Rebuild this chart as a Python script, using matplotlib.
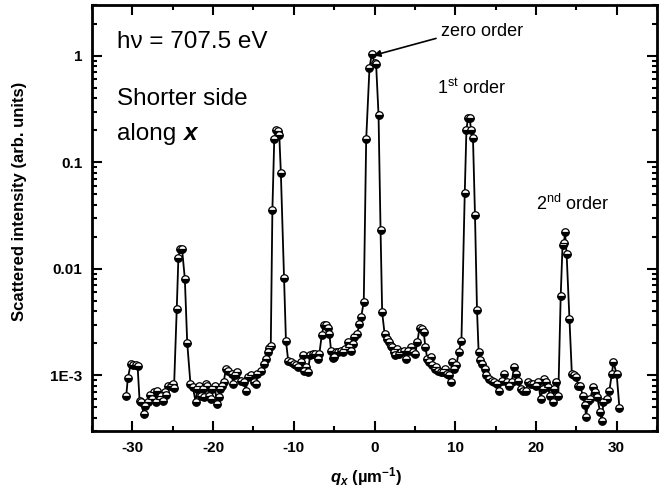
import matplotlib
matplotlib.use("Agg")
import matplotlib.pyplot as plt
from matplotlib.ticker import FixedLocator, FixedFormatter, LogLocator, NullFormatter, MultipleLocator

plt.rcParams['font.family'] = ['Liberation Sans', 'DejaVu Sans']
plt.rcParams['mathtext.fontset'] = 'custom'
plt.rcParams['mathtext.rm'] = 'Liberation Sans'
plt.rcParams['mathtext.it'] = 'Liberation Sans:italic'
plt.rcParams['mathtext.bf'] = 'Liberation Sans:bold'
try:
    plt.rcParams['mathtext.bfit'] = 'Liberation Sans:bold:italic'
except KeyError:
    pass

# ---- data ----
qx = [-30.76, -30.56, -30.2, -29.9, -29.6, -29.35, -29.1, -28.9, -28.6, -28.4,
      -28.1, -27.8, -27.6, -27.3, -27.1, -26.9, -26.6, -26.4, -26.2, -26.0,
      -25.8, -25.55, -25.26, -25.0, -24.84, -24.5, -24.3, -24.1, -23.85, -23.5,
      -23.2, -22.8, -22.5, -22.15, -21.95, -21.7, -21.5, -21.3, -21.1, -20.85,
      -20.7, -20.5, -20.3, -20.1, -19.8, -19.5, -19.3, -19.1, -18.9, -18.7,
      -18.4, -18.1, -17.7, -17.5, -17.3, -16.98, -16.56, -16.15, -15.94, -15.73,
      -15.32, -14.91, -14.7, -14.5, -14.08, -13.75, -13.46, -13.25, -13.05, -12.85,
      -12.65, -12.42, -12.21, -12.0, -11.8, -11.6, -11.2, -10.97, -10.68, -10.35,
      -10.02, -9.73, -9.44, -9.11, -8.9, -8.7, -8.49, -8.28, -7.95, -7.66,
      -7.37, -7.04, -6.83, -6.54, -6.29, -6.0, -5.8, -5.59, -5.38, -5.18,
      -4.97, -4.76, -4.47, -4.14, -3.94, -3.65, -3.31, -3.1, -2.9, -2.69,
      -2.48, -2.15, -1.86, -1.66, -1.33, -1.03, -0.62, -0.33, 0.0, 0.2,
      0.5, 0.75, 0.95, 1.25, 1.53, 1.74, 1.99, 2.2, 2.4, 2.6,
      2.82, 3.0, 3.31, 3.64, 3.85, 4.14, 4.47, 4.76, 5.05, 5.3,
      5.59, 5.88, 6.1, 6.3, 6.54, 6.71, 6.96, 7.12, 7.45, 7.66,
      7.87, 8.2, 8.49, 8.78, 9.03, 9.25, 9.44, 9.6, 9.85, 10.15,
      10.43, 10.77, 11.18, 11.39, 11.59, 11.8, 11.95, 12.2, 12.45, 12.7,
      12.9, 13.1, 13.37, 13.66, 13.87, 14.2, 14.5, 14.78, 15.12, 15.44,
      15.74, 16.06, 16.36, 16.68, 16.98, 17.3, 17.5, 17.8, 18.1, 18.42,
      18.76, 19.05, 19.34, 19.67, 20.0, 20.29, 20.58, 20.83, 21.0, 21.3,
      21.5, 21.74, 22.07, 22.27, 22.48, 22.77, 23.07, 23.3, 23.48, 23.6,
      23.8, 24.15, 24.45, 24.7, 24.97, 25.26, 25.5, 25.8, 26.09, 26.2,
      26.5, 26.7, 27.1, 27.3, 27.6, 27.95, 28.16, 28.36, 28.8, 29.1,
      29.4, 29.6, 30.0, 30.35]

intensity = [6.4e-4, 9.4e-4, 1.28e-3, 1.26e-3, 1.24e-3, 1.22e-3, 5.7e-4, 5.6e-4, 4.3e-4, 5.1e-4,
             5.6e-4, 6.6e-4, 6.0e-4, 7.0e-4, 5.6e-4, 7.2e-4, 6.0e-4, 6.4e-4, 5.8e-4, 6.9e-4,
             6.6e-4, 7.9e-4, 7.9e-4, 8.2e-4, 7.6e-4, 4.2e-3, 0.0125, 0.0155, 0.0155, 8.1e-3,
             2.0e-3, 8.3e-4, 7.7e-4, 5.6e-4, 7.4e-4, 7.9e-4, 6.4e-4, 7.4e-4, 6.2e-4, 8.3e-4,
             7.9e-4, 6.4e-4, 6.0e-4, 7.4e-4, 7.9e-4, 5.4e-4, 6.2e-4, 7.4e-4, 7.9e-4, 8.6e-4,
             1.15e-3, 1.1e-3, 1.03e-3, 8.3e-4, 1.0e-3, 1.07e-3, 8.9e-4, 8.6e-4, 7.2e-4, 9.6e-4,
             1.0e-3, 8.6e-4, 8.3e-4, 1.03e-3, 1.1e-3, 1.28e-3, 1.43e-3, 1.66e-3, 1.8e-3, 1.9e-3,
             0.036, 0.164, 0.203, 0.196, 0.182, 0.079, 8.2e-3, 2.1e-3, 1.35e-3, 1.32e-3,
             1.28e-3, 1.24e-3, 1.19e-3, 1.33e-3, 1.56e-3, 1.1e-3, 1.19e-3, 1.07e-3, 1.55e-3, 1.6e-3,
             1.6e-3, 1.43e-3, 1.6e-3, 2.37e-3, 2.95e-3, 2.95e-3, 2.8e-3, 2.45e-3, 1.7e-3, 1.46e-3,
             1.5e-3, 1.67e-3, 1.66e-3, 1.7e-3, 1.66e-3, 1.77e-3, 2.05e-3, 1.85e-3, 1.7e-3, 1.98e-3,
             2.3e-3, 2.45e-3, 3.05e-3, 3.5e-3, 4.9e-3, 0.164, 0.776, 1.04, 0.865, 0.83,
             0.28, 0.023, 3.9e-3, 2.45e-3, 2.2e-3, 2.05e-3, 1.9e-3, 1.85e-3, 1.66e-3, 1.55e-3,
             1.77e-3, 1.6e-3, 1.66e-3, 1.7e-3, 1.43e-3, 1.7e-3, 1.85e-3, 1.66e-3, 1.6e-3, 2.05e-3,
             2.8e-3, 2.75e-3, 2.55e-3, 1.85e-3, 1.43e-3, 1.33e-3, 1.48e-3, 1.24e-3, 1.15e-3, 1.19e-3,
             1.1e-3, 1.07e-3, 1.07e-3, 1.15e-3, 1.03e-3, 1.0e-3, 8.6e-4, 1.33e-3, 1.15e-3, 1.24e-3,
             1.66e-3, 2.1e-3, 0.051, 0.203, 0.262, 0.262, 0.203, 0.17, 0.032, 4.1e-3,
             1.66e-3, 1.38e-3, 1.28e-3, 1.15e-3, 1.0e-3, 9.3e-4, 8.9e-4, 8.6e-4, 8.3e-4, 7.2e-4,
             8.9e-4, 1.03e-3, 8.6e-4, 8.0e-4, 8.6e-4, 1.19e-3, 1.03e-3, 8.9e-4, 7.4e-4, 7.2e-4,
             7.2e-4, 8.6e-4, 8.3e-4, 8.3e-4, 8.0e-4, 8.6e-4, 6.0e-4, 7.4e-4, 9.3e-4, 8.6e-4,
             7.7e-4, 6.4e-4, 5.6e-4, 7.4e-4, 8.6e-4, 6.4e-4, 5.6e-3, 0.0168, 0.0174, 0.022,
             0.0139, 3.4e-3, 1.03e-3, 1.0e-3, 9.6e-4, 8.0e-4, 8.0e-4, 6.4e-4, 5.3e-4, 4.1e-4,
             5.7e-4, 6.0e-4, 7.7e-4, 6.9e-4, 6.2e-4, 4.5e-4, 3.7e-4, 5.6e-4, 6.0e-4, 7.2e-4,
             1.03e-3, 1.33e-3, 1.03e-3, 4.9e-4]

x_ticks = [-30, -20, -10, 0, 10, 20, 30]
x_tick_labels = ['-30', '-20', '-10', '0', '10', '20', '30']
y_ticks = [1e-3, 1e-2, 1e-1, 1]
y_tick_labels = ['1E-3', '0.01', '0.1', '1']

fig = plt.figure(figsize=(6.64, 4.99), dpi=100)
ax = fig.add_axes([92/664, 1 - 431/499, (657 - 92)/664, (431 - 5)/499])

ax.plot(qx, intensity, color='black', lw=1.3, marker='o', ms=5.4,
        mfc='black', mec='black', mew=0.9, fillstyle='bottom',
        markerfacecoloralt='white')

ax.set_yscale('log')
ax.set_xlim(-35, 35)
ax.set_ylim(3e-4, 3)

ax.xaxis.set_major_locator(FixedLocator(x_ticks))
ax.xaxis.set_major_formatter(FixedFormatter(x_tick_labels))
ax.xaxis.set_minor_locator(MultipleLocator(5))
ax.yaxis.set_major_locator(FixedLocator(y_ticks))
ax.yaxis.set_major_formatter(FixedFormatter(y_tick_labels))
ax.yaxis.set_minor_locator(LogLocator(base=10, subs=range(2, 10), numticks=20))
ax.yaxis.set_minor_formatter(NullFormatter())

for s in ax.spines.values():
    s.set_linewidth(2.0)
ax.tick_params(which='both', direction='in', top=True, right=True, width=1.5)
ax.tick_params(which='major', length=7)
ax.tick_params(which='minor', length=3.8)
ax.tick_params(axis='x', which='major', pad=7)
ax.tick_params(axis='y', which='major', pad=7)
for lab in ax.get_xticklabels() + ax.get_yticklabels():
    lab.set_fontsize(11)
    lab.set_fontweight('bold')

ax.set_ylabel('Scattered intensity (arb. units)', fontsize=12, fontweight='bold')
ax.yaxis.set_label_coords(-0.115, 0.54)
ax.set_xlabel(r'$\mathbfit{q}_{\mathbfit{x}}$ (µm$^{\mathbf{-1}}$)', fontsize=12, fontweight='bold')
ax.xaxis.set_label_coords(0.485, -0.08)

# annotations
big = 17.5
ax.text(0.045, 0.913, 'hν = 707.5 eV', transform=ax.transAxes, fontsize=big, va='center', ha='left')
ax.text(0.045, 0.78, 'Shorter side', transform=ax.transAxes, fontsize=big, va='center', ha='left')
t = ax.text(0.045, 0.698, 'along ', transform=ax.transAxes, fontsize=big, va='center', ha='left')
ax.annotate('x', xy=(1, 0), xycoords=t, fontsize=big, fontweight='bold', style='italic',
            va='bottom', ha='left')

small = 13
ax.annotate('zero order', xy=(-0.3, 1.0), xytext=(8.3, 1.68), textcoords='data',
            fontsize=small, ha='left', va='center',
            arrowprops=dict(arrowstyle='-|>', color='black', lw=1.2, mutation_scale=10,
                            shrinkA=2, shrinkB=1, relpos=(0, 0.2)))
ax.text(12.0, 0.17 * 2.95, r'1$^{\mathrm{st}}$ order', fontsize=small, ha='center', va='center')
ax.text(24.5, 0.0135 * 3.0, r'2$^{\mathrm{nd}}$ order', fontsize=small, ha='center', va='center')

fig.savefig('out.png', dpi=100)
